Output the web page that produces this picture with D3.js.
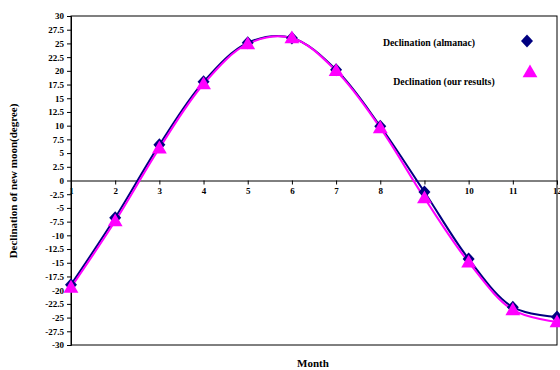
<!DOCTYPE html>
<html><head><meta charset="utf-8">
<script src="https://cdn.jsdelivr.net/npm/d3@7"></script>
<style>body{margin:0;background:#fff}svg{display:block}text{font-family:"Liberation Serif","Times New Roman",serif;font-weight:bold}</style>
</head><body><svg id="c" width="560" height="370"></svg>
<script>
const months = [1,2,3,4,5,6,7,8,9,10,11,12];
const almanac = [-19.0,-6.8,6.5,18.0,25.1,26.0,20.2,9.9,-2.1,-14.3,-23.1,-24.9];
const ours = [-19.5,-7.4,5.9,17.6,24.9,26.0,20.0,9.6,-3.2,-14.9,-23.6,-25.8];
const yTicks = [30,27.5,25,22.5,20,17.5,15,12.5,10,7.5,5,2.5,0,-2.5,-5,-7.5,-10,-12.5,-15,-17.5,-20,-22.5,-25,-27.5,-30];
const seriesNames = ["Declination (almanac)","Declination (our results)"];

const svg = d3.select("#c");
const L=71,R=557,T=16,B=345;
const x = d3.scaleLinear().domain([1,12]).range([L,R]);
const y = d3.scaleLinear().domain([-30,30]).range([B,T]);

svg.append("rect").attr("x",L).attr("y",T).attr("width",R-L).attr("height",B-T)
  .attr("fill","none").attr("stroke","#000").attr("stroke-width",1);

const ya = svg.append("g").attr("transform",`translate(${L},0)`)
  .call(d3.axisLeft(y).tickValues(yTicks).tickSize(4).tickPadding(3).tickFormat(d=>String(d)));
ya.select(".domain").attr("stroke","#000");
ya.selectAll("text").attr("font-size",9).attr("fill","#000");

const xa = svg.append("g").attr("transform",`translate(0,${y(0)})`)
  .call(d3.axisBottom(x).tickValues(months).tickSize(4).tickPadding(3).tickFormat(d3.format("d")));
xa.select(".domain").attr("stroke","#000");
xa.selectAll("text").attr("font-size",9).attr("fill","#000");

const line = d3.line().x((d,i)=>x(months[i])).y(d=>y(d)).curve(d3.curveCatmullRom.alpha(0.5));
svg.append("path").datum(almanac).attr("d",line).attr("fill","none").attr("stroke","#000080").attr("stroke-width",2);
svg.append("path").datum(ours).attr("d",line).attr("fill","none").attr("stroke","#ff00ff").attr("stroke-width",2);

const dia = "M0,-6.5L6,0L0,6.5L-6,0Z";
const tri = d3.symbol().type(d3.symbolTriangle).size(95);
svg.append("g").selectAll("path").data(almanac).join("path")
  .attr("transform",(d,i)=>`translate(${x(months[i])},${y(d)})`).attr("d",dia).attr("fill","#000080");
svg.append("g").selectAll("path").data(ours).join("path")
  .attr("transform",(d,i)=>`translate(${x(months[i])},${y(d)+1})`).attr("d",tri).attr("fill","#ff00ff");

// legend
svg.append("text").attr("x",429).attr("y",46).attr("text-anchor","middle").attr("font-size",9.8).text(seriesNames[0]);
svg.append("path").attr("transform","translate(527,41)").attr("d",dia).attr("fill","#000080");
svg.append("text").attr("x",444).attr("y",85).attr("text-anchor","middle").attr("font-size",9.8).text(seriesNames[1]);
svg.append("path").attr("transform","translate(530,73)").attr("d",tri).attr("fill","#ff00ff");

svg.append("text").attr("x",313).attr("y",367).attr("text-anchor","middle").attr("font-size",11).text("Month");
svg.append("text").attr("transform","translate(17,181) rotate(-90)").attr("text-anchor","middle").attr("font-size",11).text("Declination of new moon(degree)");
</script></body></html>
